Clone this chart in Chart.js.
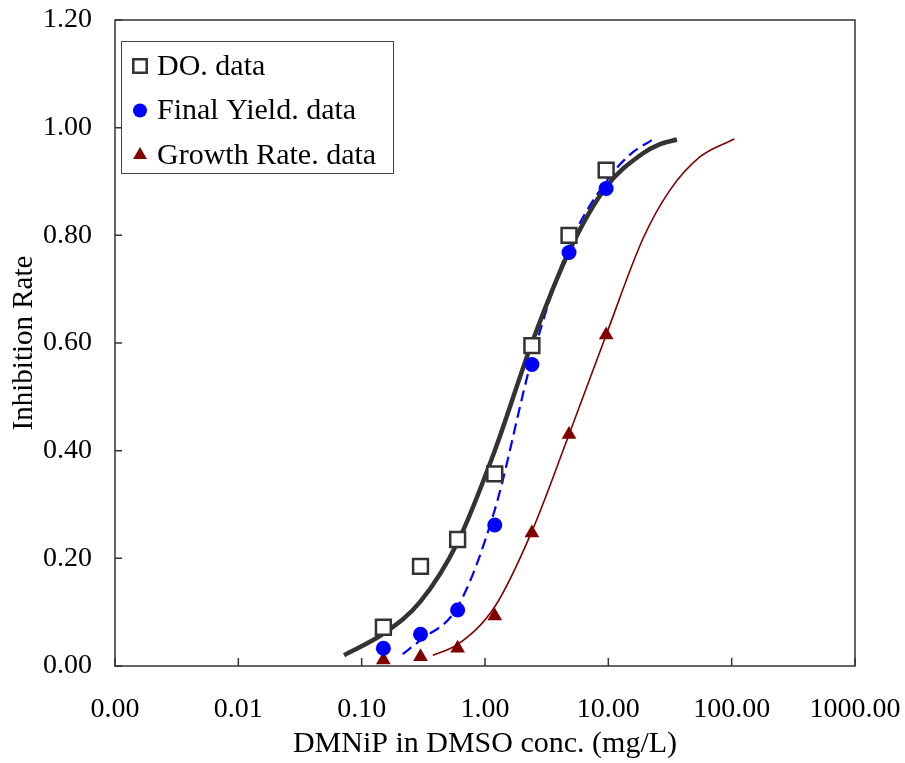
<!DOCTYPE html>
<html>
<head>
<meta charset="utf-8">
<script src="https://cdn.jsdelivr.net/npm/chart.js@4.4.0/dist/chart.umd.min.js"></script>
<style>
  body { margin: 0; background: #fff; }
  canvas { display: block; }
</style>
</head>
<body>
<canvas id="chart" width="905" height="763"></canvas>
<script>
// tested concentrations (mg/L) and measured inhibition
const conc = [0.15, 0.3, 0.6, 1.2, 2.4, 4.8, 9.6];
const doData = [0.072, 0.185, 0.235, 0.357, 0.595, 0.80, 0.921];
const yieldData = [0.033, 0.059, 0.104, 0.262, 0.560, 0.768, 0.887];
const rateData = [0.011, 0.017, 0.033, 0.093, 0.247, 0.430, 0.615];

// fitted curves
const doFitX = [0.072, 0.15, 0.3, 0.6, 1.2, 2.4, 4.8, 9.6, 19, 26, 36];
const doFitY = [0.02, 0.06, 0.12, 0.23, 0.40, 0.60, 0.77, 0.89, 0.952, 0.969, 0.978];
const yieldFitX = [0.215, 0.3, 0.6, 1.2, 2.4, 4.8, 9.6, 15, 22.5];
const yieldFitY = [0.022, 0.048, 0.11, 0.29, 0.57, 0.78, 0.90, 0.95, 0.977];
const rateFitX = [0.377, 0.6, 1.2, 2.4, 4.8, 9.6, 19.2, 31.6, 55.5, 105];
const rateFitY = [0.02, 0.04, 0.11, 0.25, 0.43, 0.615, 0.795, 0.884, 0.946, 0.979];

const xTicks = [0.001, 0.01, 0.1, 1, 10, 100, 1000];
const legendLabels = ['DO. data', 'Final Yield. data', 'Growth Rate. data'];

const serif = '"Liberation Serif", "Times New Roman", serif';
const pts = (xs, ys) => xs.map((x, i) => ({x: x, y: ys[i]}));

const noPad = s => {
  s.paddingLeft = 0; s.paddingRight = 0; s.paddingTop = 0; s.paddingBottom = 0;
};

// box round the plot plus the small inward tick marks
const frame = {
  id: 'frame',
  beforeDatasetsDraw(chart) {
    const {ctx, chartArea: a, scales} = chart;
    ctx.save();
    ctx.strokeStyle = '#333';
    ctx.lineWidth = 1.5;
    ctx.strokeRect(a.left, a.top, a.right - a.left, a.bottom - a.top);
    ctx.beginPath();
    xTicks.forEach(v => {
      const px = scales.x.getPixelForValue(v);
      ctx.moveTo(px, a.bottom);
      ctx.lineTo(px, a.bottom - 8);
    });
    scales.y.ticks.forEach(t => {
      const py = scales.y.getPixelForValue(t.value);
      ctx.moveTo(a.left, py);
      ctx.lineTo(a.left + 7, py);
    });
    ctx.stroke();
    ctx.restore();
  },
  afterDraw(chart) {
    const ctx = chart.ctx;
    ctx.save();
    ctx.fillStyle = '#fff';
    ctx.strokeStyle = '#444';
    ctx.lineWidth = 1;
    ctx.fillRect(121, 41, 272, 132);
    ctx.strokeRect(121.5, 41.5, 272, 132);
    ctx.font = '30px ' + serif;
    ctx.textBaseline = 'middle';
    const styles = [
      {pointStyle: 'rect', radius: 9.5, borderWidth: 2.5, fill: '#fff', stroke: '#333'},
      {pointStyle: 'circle', radius: 7, borderWidth: 0, fill: '#0000ff', stroke: '#0000ff'},
      {pointStyle: 'triangle', radius: 8, borderWidth: 0, fill: '#800000', stroke: '#800000'}
    ];
    legendLabels.forEach((txt, i) => {
      const y = 66 + i * 44.5;
      const s = styles[i];
      ctx.fillStyle = s.fill;
      ctx.strokeStyle = s.stroke;
      ctx.lineWidth = s.borderWidth;
      Chart.helpers.drawPoint(ctx, {pointStyle: s.pointStyle, radius: s.radius, rotation: 0, borderWidth: s.borderWidth}, 140, y);
      ctx.fillStyle = '#000';
      ctx.fillText(txt, 157, y + 1);
    });
    ctx.restore();
  }
};

new Chart(document.getElementById('chart'), {
  type: 'scatter',
  data: {
    datasets: [
      {
        label: legendLabels[0], data: pts(conc, doData), order: 0, clip: false,
        pointStyle: 'rect', pointRadius: 10.5, pointBorderWidth: 2.5,
        pointBackgroundColor: '#fff', pointBorderColor: '#333'
      },
      {
        label: legendLabels[1], data: pts(conc, yieldData), order: 0, clip: false,
        pointStyle: 'circle', pointRadius: 7.5, pointBorderWidth: 0,
        pointBackgroundColor: '#0000ff', pointBorderColor: '#0000ff'
      },
      {
        label: legendLabels[2], data: pts(conc, rateData), order: 0, clip: false,
        pointStyle: 'triangle', pointRadius: 8.5, pointBorderWidth: 0,
        pointBackgroundColor: '#800000', pointBorderColor: '#800000'
      },
      {
        label: 'DO fit', data: pts(doFitX, doFitY), order: 1,
        showLine: true, pointRadius: 0, borderColor: '#333', borderWidth: 4.5,
        cubicInterpolationMode: 'monotone'
      },
      {
        label: 'Yield fit', data: pts(yieldFitX, yieldFitY), order: 1,
        showLine: true, pointRadius: 0, borderColor: '#0000ff', borderWidth: 2.2,
        borderDash: [11, 6], cubicInterpolationMode: 'monotone'
      },
      {
        label: 'Rate fit', data: pts(rateFitX, rateFitY), order: 1,
        showLine: true, pointRadius: 0, borderColor: '#800000', borderWidth: 1.6,
        cubicInterpolationMode: 'monotone'
      }
    ]
  },
  options: {
    responsive: false,
    animation: false,
    layout: { autoPadding: false, padding: { top: 20, right: 50, left: 0, bottom: 0 } },
    plugins: {
      legend: { display: false },
      tooltip: { enabled: false }
    },
    scales: {
      x: {
        type: 'logarithmic',
        min: 0.001,
        max: 1000,
        afterBuildTicks: s => { s.ticks = xTicks.map(v => ({value: v})); },
        afterFit: s => { s.height = 97; noPad(s); },
        grid: { display: false, drawTicks: false },
        border: { display: false },
        ticks: {
          autoSkip: false, maxRotation: 0, padding: 27, color: '#000',
          font: { family: serif, size: 28 },
          callback: v => Number(v).toFixed(2)
        },
        title: {
          display: true, text: 'DMNiP in DMSO conc. (mg/L)', color: '#000',
          font: { family: serif, size: 30 }, padding: { top: 0, bottom: 1 }
        }
      },
      y: {
        min: 0,
        max: 1.2,
        afterFit: s => { s.width = 115; noPad(s); },
        grid: { display: false, drawTicks: false },
        border: { display: false },
        ticks: {
          stepSize: 0.2, padding: 23, color: '#000',
          font: { family: serif, size: 28 },
          callback: v => Number(v).toFixed(2)
        },
        title: {
          display: true, text: 'Inhibition Rate', color: '#000',
          font: { family: serif, size: 29 }, padding: { top: 7, bottom: 0 }
        }
      }
    }
  },
  plugins: [frame]
});
</script>
</body>
</html>
